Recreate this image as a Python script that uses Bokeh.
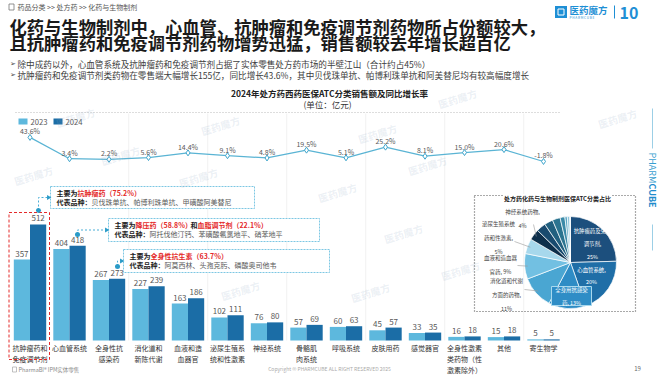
import math
from bokeh.plotting import figure
from bokeh.models import Range1d
from bokeh.core.properties import value
from bokeh.embed import file_html
from bokeh.resources import INLINE

# ---------------- data ----------------
categories = ["抗肿瘤药和\n免疫调节剂", "心血管系统", "全身性抗\n感染药", "消化道和\n新陈代谢",
              "血液和造\n血器官", "泌尿生殖系\n统和性激素", "神经系统", "骨骼肌\n肉系统",
              "呼吸系统", "皮肤用药", "感觉器官", "全身性激素\n类药物（性\n激素除外）",
              "其他", "寄生物学"]
series_names = ["2023", "2024"]
sales_2023 = [357, 404, 267, 227, 163, 102, 76, 57, 60, 45, 33, 16, 15, 5]
sales_2024 = [512, 418, 273, 239, 186, 111, 80, 69, 63, 57, 35, 18, 18, 5]
growth_pct = [43.6, 3.4, 2.2, 5.6, 14.4, 9.1, 4.8, 19.5, 5.1, 25.2, 8.1, 15.0, 20.6, -1.8]
pie_label_templates = ["抗肿瘤药及免疫\n调节剂,\n{}%", "心血管系统,\n{}%", "全身用抗感染\n药, {}%",
                       "消化道和代谢\n方面的药物,\n{}%", "血液和造血器\n官药, {}%",
                       "泌尿生殖系统\n药和性激素,\n{}%", "神经系统药物,\n{}%"]
callout_heads = [
    [("主要为", "k"), ("抗肿瘤药（75.2%）", "r")],
    [("主要为", "k"), ("降压药（58.8%）", "r"), ("和", "k"), ("血脂调节剂（22.1%）", "r")],
    [("主要为", "k"), ("全身性抗生素（63.7%）", "r")],
]
callout_examples = ["贝伐珠单抗、帕博利珠单抗、甲磺酸阿美替尼",
                    "阿托伐他汀钙、苯磺酸氨氯地平、硝苯地平",
                    "阿莫西林、头孢克肟、磷酸奥司他韦"]
title_lines = ["化药与生物制剂中，心血管、抗肿瘤和免疫调节剂药物所占份额较大，",
               "且抗肿瘤药和免疫调节剂药物增势迅猛，销售额较去年增长超百亿"]
bullets = ["除中成药以外，心血管系统及抗肿瘤药和免疫调节剂占据了实体零售处方药市场的半壁江山（合计约占45%）",
           "抗肿瘤药和免疫调节剂类药物在零售端大幅增长155亿，同比增长43.6%，其中贝伐珠单抗、帕博利珠单抗和阿美替尼均有较高幅度增长"]

# ---------------- layout / style ----------------
FONT = "Noto Sans CJK SC"
C23, C24 = "#5db8dd", "#1b6da6"
LINE_C = "#5ab4d4"
RED = "#e42a2a"
DARK = "#222222"
GRAY = "#595959"
PIE_COLORS = ["#1c4f7d", "#1f6ea7", "#2e8cc5", "#4aa6d2", "#72c0e2", "#a7d8ec", "#0d2f4b",
              "#184a6e", "#21607f", "#2b7490", "#3b8aa8", "#5aa6c3", "#8cc5dc", "#c6e4f0"]

PAGE_L, PAGE_R, PAGE_T, PAGE_B = 0, 660, 0, 375
X0_PX, DX_PX = 29.5, 39.5
BASE_PX, PX_PER_UNIT = 340.0, 0.2266
PCT0_PX, PX_PER_PCT = 160.0, 0.53

p = figure(width=PAGE_R - PAGE_L, height=PAGE_B - PAGE_T, output_backend="svg",
           toolbar_location=None, x_axis_location=None, y_axis_location=None,
           x_range=Range1d((PAGE_L - X0_PX) / DX_PX, (PAGE_R - X0_PX) / DX_PX),
           y_range=Range1d((BASE_PX - PAGE_B) / PX_PER_UNIT, (BASE_PX - PAGE_T) / PX_PER_UNIT),
           min_border=0)
p.extra_x_ranges = {"px": Range1d(PAGE_L, PAGE_R)}
p.extra_y_ranges = {"px": Range1d(PAGE_B, PAGE_T),
                    "pct": Range1d((PCT0_PX - PAGE_B) / PX_PER_PCT, (PCT0_PX - PAGE_T) / PX_PER_PCT)}
p.grid.visible = False
p.outline_line_color = None
p.background_fill_color = "white"
p.border_fill_color = "white"

PX = dict(x_range_name="px", y_range_name="px")


def T(x, y, s, size, color=DARK, bold=False, align="left", baseline="middle",
      angle=0.0, font=FONT, lh=1.2, alpha=1.0):
    p.text(x=[x], y=[y], text=[s], text_font=value(font), text_font_size=f"{size}px",
           text_color=color, text_alpha=alpha, text_font_style="bold" if bold else "normal",
           text_align=align, text_baseline=baseline, angle=angle, text_line_height=lh, **PX)


def tw(s, size):
    w = 0.0
    for ch in s:
        if ord(ch) >= 0x2E80:
            w += 1.0
        elif ch.isdigit():
            w += 0.56
        elif ch == ".":
            w += 0.27
        elif ch == "%":
            w += 0.9
        elif ch == " ":
            w += 0.23
        else:
            w += 0.6
    return w * size


def rich(x, y, segs, size):
    for s, c in segs:
        col = RED if c == "r" else (GRAY if c == "g" else DARK)
        T(x, y, s, size, color=col, bold=(c != "g"))
        x += tw(s, size)


idx = list(range(len(categories)))

# faint vertical separators every two categories
sep_x = [i + 0.5 for i in idx[2:-1:2]]
p.segment(x0=sep_x, x1=sep_x, y0=[0] * len(sep_x), y1=[(BASE_PX - 113) / PX_PER_UNIT] * len(sep_x),
          line_color="#f1f1f1", line_width=1)

# ---------------- header ----------------
p.rect(x=[11], y=[6.5], width=5, height=6, fill_color=None, line_color="#777777", line_width=0.8, **PX)
T(17, 6.5, "药品分类 >> 处方药 >> 化药与生物制剂", 7, color="#555555")
T(9, 26, title_lines[0], 17.3, color="#1a1a1a", bold=True)
T(9, 41.5, title_lines[1], 17.3, color="#1a1a1a", bold=True)
for k, b in enumerate(bullets):
    yy = 63 + 11.5 * k
    T(9.5, yy, "➢", 7, color="#444444", font="DejaVu Sans")
    T(17, yy, b, 8.6, color="#404040")

# logo top-right
p.rect(x=[560.5], y=[11.5], width=12, height=12, fill_color="#1e8fd5", line_color=None, **PX)
p.rect(x=[560.5], y=[11.5], width=6, height=6, fill_color=None, line_color="white", line_width=1, **PX)
T(569, 9.5, "医药魔方", 9.5, color="#1e8fd5", bold=True)
T(569, 16.5, "P H A R M C U B E", 3.2, color="#1e8fd5")
p.segment(x0=[614], x1=[614], y0=[5], y1=[18], line_color="#1e8fd5", line_width=1, **PX)
T(619, 12, "10", 16, color="#1e8fd5", bold=True)

# vertical brand on right edge
p.segment(x0=[652, 652], x1=[652, 652], y0=[108, 224], y1=[148, 250],
          line_color="#9ccfe6", line_width=1, **PX)
T(652, 152, "PHARM", 9, color="#3a9fd0", angle=-math.pi / 2)
T(652, 183, "CUBE", 9, color="#1f8ccc", bold=True, angle=-math.pi / 2)

# ---------------- chart title ----------------
T(329, 92, "2024年处方药西药医保ATC分类销售额及同比增长率", 8.5, color=DARK, bold=True, align="center")
T(327, 103, "(单位：亿元)", 8.5, color="#333333", align="center")
p.segment(x0=[15], x1=[560], y0=[112], y1=[112], line_color="#bbbbbb", line_width=1,
          line_dash="1 2", **PX)

# legend
p.quad(left=[18, 53], right=[27, 62], top=[118, 118], bottom=[124, 124],
       fill_color=[C23, C24], line_color=None, **PX)
T(30, 121, series_names[0], 7.7, color=GRAY)
T(65, 121, series_names[1], 7.7, color=GRAY)

# ---------------- bars ----------------
OFF, BW = 0.205, 0.41
x23 = [i - OFF for i in idx]
x24 = [i + OFF for i in idx]
p.vbar(x=x23, top=sales_2023, bottom=0, width=BW, fill_color=C23, line_color=None)
p.vbar(x=x24, top=sales_2024, bottom=0, width=BW, fill_color=C24, line_color=None)
lab_kw = dict(text_font=value(FONT), text_font_size="8px", text_color=GRAY,
              text_align="center", text_baseline="middle", y_offset=-6)
p.text(x=x23, y=sales_2023, text=[str(v) for v in sales_2023], **lab_kw)
p.text(x=x24, y=sales_2024, text=[str(v) for v in sales_2024], **lab_kw)

# category labels
p.text(x=idx, y=[0] * len(idx), text=categories, text_font=value(FONT), text_font_size="7px",
       text_color="#333333", text_align="center", text_baseline="top", y_offset=2.5,
       text_line_height=1.08)

# ---------------- growth line ----------------
p.line(x=idx, y=growth_pct, y_range_name="pct", line_color=LINE_C, line_width=1.2)
p.scatter(x=idx, y=growth_pct, y_range_name="pct", marker="diamond", size=6,
          fill_color="white", line_color="#3ea5cc", line_width=1)
p.text(x=idx, y=growth_pct, y_range_name="pct", text=[f"{g:.1f}%" for g in growth_pct],
       text_font=value(FONT), text_font_size="7px", text_color=GRAY,
       text_align="center", text_baseline="middle", y_offset=-6)

# ---------------- callouts ----------------
p.quad(left=[8.5], right=[49], top=[212], bottom=[359], fill_color=None, line_color=RED,
       line_width=1, line_dash="3 2", **PX)
boxes = [(50, 254, 186, 208), (108, 319, 218, 241), (123, 329, 249, 272)]
dots = [(38, 210), (77, 234), (117, 266)]
for (l, r, t, b), (dx, dy), head, ex in zip(boxes, dots, callout_heads, callout_examples):
    p.quad(left=[l], right=[r], top=[t], bottom=[b], fill_color="white", fill_alpha=0.95,
           line_color="#7cc7e3", line_width=1, line_dash="2 1", **PX)
    my = (t + b) / 2
    p.line(x=[dx, dx, l - 2], y=[dy, my, my], line_color="#4aaed6", line_width=1,
           line_dash="2 2", **PX)
    p.scatter(x=[dx], y=[dy], size=5, fill_color="#2a9bc8", line_color=None, **PX)
    p.scatter(x=[l - 2], y=[my], marker="triangle", angle=-math.pi / 2, size=5,
              fill_color="#2a9bc8", line_color=None, **PX)
    rich(l + 6, t + 6.5, head, 7)
    rich(l + 6, t + 15, [("代表品种：", "k"), (ex, "g")], 7)

# ---------------- pie ----------------
PIE_CX, PIE_CY, PIE_R = 570, 262, 46
p.quad(left=[474], right=[635], top=[195], bottom=[311], fill_color=None,
       line_color="#555555", line_width=1.2, line_dash="1 2", **PX)
p.rect(x=[557], y=[197], width=108, height=7, fill_color="white", line_color=None, **PX)
T(557, 197.5, "处方药化药与生物制剂医保ATC分类占比", 6, color=DARK, bold=True, align="center")

total = sum(sales_2024)
shares = [v / total for v in sales_2024]
starts, ends, mids = [], [], []
cum = 0.0
for s in shares:
    starts.append(math.pi / 2 - cum * 2 * math.pi)
    mids.append((cum + s / 2) * 2 * math.pi)
    cum += s
    ends.append(math.pi / 2 - cum * 2 * math.pi)
p.wedge(x=PIE_CX, y=PIE_CY, radius=PIE_R, start_angle=starts, end_angle=ends, direction="clock",
        fill_color=PIE_COLORS, line_color="white", line_width=0.7, **PX)

pie_texts = [t.format(round(s * 100)) for t, s in zip(pie_label_templates, shares)]
# inside labels
T(592, 243.5, pie_texts[0], 5.4, color="white", align="center", lh=1.6)
T(591, 275.5, pie_texts[1], 5.4, color="white", align="center", lh=1.6)
p.quad(left=[551], right=[591], top=[286], bottom=[305], fill_color="#2f8dc6",
       line_color="#a8d8ee", line_width=1, **PX)
T(571, 296, pie_texts[2], 5.4, color="white", align="center", lh=1.6)
# outside labels with leader lines
outside = [(3, 506, 294, 524, 289), (4, 500, 264.5, 517, 265), (5, 498, 237, 514, 241),
           (6, 522, 218, 533, 224)]
for i, lx, ly, ax, ay in outside:
    T(lx, ly, pie_texts[i], 5.5, color="#444444", align="center", lh=1.75)
    ex_ = PIE_CX + (PIE_R - 3) * math.sin(mids[i])
    ey_ = PIE_CY - (PIE_R - 3) * math.cos(mids[i])
    p.line(x=[ax, ex_], y=[ay, ey_], line_color="#999999", line_width=0.6, **PX)

# ---------------- footer ----------------
T(18, 369, "PharmaBI® IPM实体零售", 5.5, color="#888888")
p.rect(x=[14], y=[369], width=4, height=5, fill_color=None, line_color="#999999", line_width=0.6, **PX)
T(329, 368, "Copyright © PHARMCUBE ALL RIGHT RESERVED 2025", 5, color="#aaaaaa", align="center")
T(637, 368, "19", 6, color="#666666", align="center")

# ---------------- faint watermarks ----------------
wm_x = [75, 220, 120, 457, 377, 617, 427, 337, 403, 460, 33, 198, 240, 370]
wm_y = [117, 125, 155, 98, 133, 118, 165, 192, 233, 270, 175, 177, 290, 292]
p.text(x=wm_x, y=wm_y, text=["医药魔方"] * len(wm_x), text_font=value(FONT),
       text_font_size="10px", text_font_style="bold", text_color="#8fa8bf", text_alpha=0.18,
       text_align="center", text_baseline="middle", angle=0.3, **PX)

open("out.html", "w").write(file_html(p, INLINE))
